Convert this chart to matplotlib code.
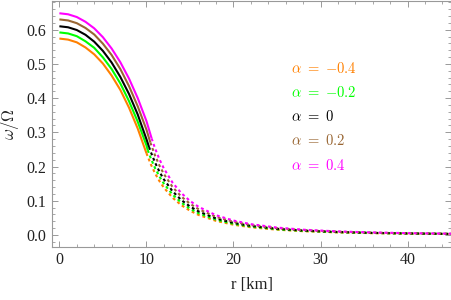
import matplotlib
matplotlib.use("Agg")
import matplotlib.pyplot as plt
from matplotlib.ticker import MultipleLocator

plt.rcParams['mathtext.fontset'] = 'cm'

alphas = ["-0.4", "-0.2", "0", "0.2", "0.4"]
colors = ["#FF8000", "#00FF00", "#000000", "#996633", "#FF00FF"]

# interior (solid) curves
r_in = [
    [0, 1, 2, 3, 4, 5, 6, 7, 8, 9, 10.0],
    [0, 1, 2, 3, 4, 5, 6, 7, 8, 9, 10, 10.15],
    [0, 1, 2, 3, 4, 5, 6, 7, 8, 9, 10, 10.3],
    [0, 1, 2, 3, 4, 5, 6, 7, 8, 9, 10, 10.45],
    [0, 1, 2, 3, 4, 5, 6, 7, 8, 9, 10, 10.6],
]
w_in = [
    [0.574, 0.571, 0.563, 0.548, 0.528, 0.501, 0.466, 0.424, 0.372, 0.311, 0.239],
    [0.592, 0.589, 0.581, 0.566, 0.547, 0.519, 0.485, 0.443, 0.391, 0.331, 0.262, 0.248],
    [0.610, 0.607, 0.599, 0.585, 0.565, 0.538, 0.504, 0.462, 0.412, 0.352, 0.280, 0.257],
    [0.630, 0.627, 0.619, 0.605, 0.586, 0.559, 0.526, 0.485, 0.435, 0.376, 0.308, 0.270],
    [0.648, 0.645, 0.637, 0.623, 0.604, 0.578, 0.545, 0.505, 0.457, 0.400, 0.333, 0.282],
]

# exterior (dashed) curves
r_out = [
    [10.0, 10.5, 11, 11.5, 12, 13, 14, 15, 16, 18, 20, 22, 25, 28, 32, 36, 40, 45],
    [10.15, 10.5, 11, 11.5, 12, 13, 14, 15, 16, 18, 20, 22, 25, 28, 32, 36, 40, 45],
    [10.3, 10.5, 11, 11.5, 12, 13, 14, 15, 16, 18, 20, 22, 25, 28, 32, 36, 40, 45],
    [10.45, 11, 11.5, 12, 13, 14, 15, 16, 18, 20, 22, 25, 28, 32, 36, 40, 45],
    [10.6, 11, 11.5, 12, 13, 14, 15, 16, 18, 20, 22, 25, 28, 32, 36, 40, 45],
]
w_out = [
    [0.239, 0.2065, 0.1796, 0.1571, 0.1383, 0.1088, 0.0871, 0.0708, 0.0583, 0.0410,
     0.0299, 0.0224, 0.0153, 0.0109, 0.0073, 0.0051, 0.0037, 0.0026],
    [0.248, 0.2240, 0.1948, 0.1705, 0.1501, 0.1180, 0.0945, 0.0768, 0.0633, 0.0445,
     0.0324, 0.0244, 0.0166, 0.0118, 0.0079, 0.0056, 0.0041, 0.0028],
    [0.257, 0.2426, 0.2110, 0.1846, 0.1625, 0.1278, 0.1023, 0.0832, 0.0686, 0.0481,
     0.0351, 0.0264, 0.0180, 0.0128, 0.0086, 0.0060, 0.0044, 0.0031],
    [0.270, 0.2315, 0.2026, 0.1783, 0.1402, 0.1123, 0.0913, 0.0752, 0.0528,
     0.0385, 0.0289, 0.0197, 0.0140, 0.0094, 0.0066, 0.0048, 0.0034],
    [0.282, 0.2524, 0.2209, 0.1944, 0.1529, 0.1224, 0.0995, 0.0820, 0.0576,
     0.0420, 0.0315, 0.0215, 0.0153, 0.0103, 0.0072, 0.0052, 0.0037],
]

fig = plt.figure(figsize=(4.52, 3.0), dpi=100)
ax = fig.add_axes([0.115, 0.177, 0.883, 0.821])

for ri, wi, ro, wo, c in zip(r_in, w_in, r_out, w_out, colors):
    ax.plot(ri, wi, color=c, lw=1.5, solid_capstyle='butt')
    ax.plot(ro, wo, color=c, lw=1.5, linestyle=(0, (1.4, 1.4)), dash_capstyle='butt')

ax.set_xlim(-0.85, 45)
ax.set_ylim(-0.035, 0.685)

ax.xaxis.set_major_locator(MultipleLocator(10))
ax.xaxis.set_minor_locator(MultipleLocator(2))
ax.yaxis.set_major_locator(MultipleLocator(0.1))
ax.yaxis.set_minor_locator(MultipleLocator(0.02))
ax.yaxis.set_major_formatter(matplotlib.ticker.FormatStrFormatter('%.1f'))

gray = '#999999'
for s in ax.spines.values():
    s.set_color(gray)
    s.set_linewidth(0.8)
ax.tick_params(which='both', direction='in', top=True, right=True, color=gray,
               labelsize=11.5, labelcolor='#222222', pad=4)
ax.tick_params(which='major', length=4, width=0.7)
ax.tick_params(which='minor', length=2, width=0.6)
for lab in ax.get_xticklabels() + ax.get_yticklabels():
    lab.set_fontfamily('Liberation Serif')

ax.set_xlabel('r [km]', fontfamily='Liberation Serif', fontsize=12, color='#222222', labelpad=6)
ax.set_ylabel(r'$\omega/\Omega$', fontsize=12, color='#222222', labelpad=4)

ys = [0.486, 0.415, 0.345, 0.275, 0.204]
for a, c, y in zip(alphas, colors, ys):
    val = a.replace('-', '{-}')
    ax.text(26.6, y, r'$\alpha\ =\ ' + val + '$', color=c, fontsize=10.5,
            va='center', ha='left')

fig.savefig('out.png', dpi=100)
